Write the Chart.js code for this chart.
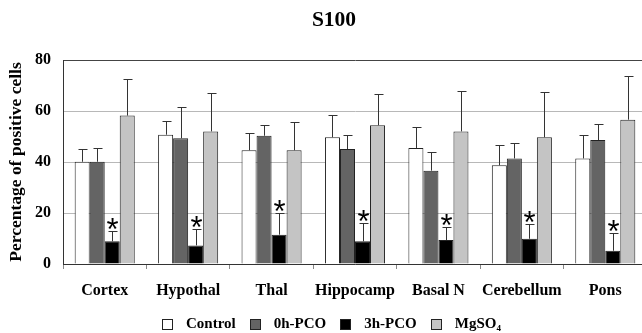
<!DOCTYPE html>
<html>
<head>
<meta charset="utf-8">
<script src="https://cdn.jsdelivr.net/npm/chart.js@4/dist/chart.umd.min.js"></script>
<style>
  html, body { margin: 0; padding: 0; background: #fff; overflow: hidden; }
  #wrap { position: relative; width: 650px; height: 333px; }
</style>
</head>
<body>
<div id="wrap"><canvas id="chart"></canvas></div>
<script>
const regions = ["Cortex", "Hypothal", "Thal", "Hippocamp", "Basal N", "Cerebellum", "Pons"]
const seriesNames = ["Control", "0h-PCO", "3h-PCO", "MgSO\u2084"]

const control = [40.1, 50.7, 44.6, 49.7, 45.5, 38.7, 41.4]
const controlErr = [5.0, 5.4, 6.8, 8.9, 8.4, 7.8, 9.3]
const pco0h = [40.1, 49.3, 50.3, 45.1, 36.6, 41.4, 48.6]
const pco0hErr = [5.3, 12.4, 4.1, 5.6, 7.3, 6.2, 6.3]
const pco3h = [8.9, 7.3, 11.5, 8.9, 9.4, 9.9, 5.2]
const pco3hErr = [4.0, 6.6, 8.4, 7.2, 5.2, 5.8, 6.8]
const mgso4 = [58.2, 52.0, 44.6, 54.4, 52.0, 49.7, 56.6]
const mgso4Err = [14.5, 15.1, 11.0, 12.1, 16.0, 17.9, 17.2]

const yTicks = [0, 20, 40, 60, 80]

const serif = "'Liberation Serif', 'Times New Roman', serif"

// error bars (upward only) and significance stars
const errorBars = {
  id: "errorBars",
  afterDatasetsDraw(chart) {
    const ctx = chart.ctx
    const y = chart.scales.y
    ctx.save()
    chart.data.datasets.forEach((ds, i) => {
      const meta = chart.getDatasetMeta(i)
      meta.data.forEach((bar, j) => {
        const top = Math.round(y.getPixelForValue(ds.data[j] + ds.errors[j])) + 0.5
        const x = Math.round(bar.x) + 0.5
        ctx.strokeStyle = "#333"
        ctx.lineWidth = 1
        ctx.beginPath()
        ctx.moveTo(x, bar.y)
        ctx.lineTo(x, top)
        ctx.moveTo(x - 4, top)
        ctx.lineTo(x + 5, top)
        ctx.stroke()
        if (ds.starred) {
          ctx.font = "31px 'Liberation Sans', Arial, sans-serif"
          ctx.fillStyle = "#000"
          ctx.textAlign = "center"
          ctx.textBaseline = "alphabetic"
          const m = ctx.measureText("*")
          const mid = (m.actualBoundingBoxAscent - m.actualBoundingBoxDescent) / 2
          ctx.fillText("*", x, top - 8 + mid)
        }
      })
    })
    ctx.restore()
  }
}

// title and legend row, positioned like the original figure
const figureText = {
  id: "figureText",
  afterDraw(chart, args, opts) {
    const ctx = chart.ctx
    ctx.save()
    ctx.fillStyle = "#000"
    ctx.textBaseline = "middle"
    ctx.textAlign = "center"
    ctx.font = "bold 21.5px " + serif
    ctx.fillText(opts.title, opts.titleX, opts.titleY)

    ctx.font = "bold 15px " + serif
    ctx.textAlign = "left"
    const box = 10, gap = 14, spacing = 14
    let x = opts.legendLeft
    chart.data.datasets.forEach(ds => {
      const w = ctx.measureText(ds.label).width
      const bx = Math.round(x) + 0.5
      const by = Math.round(opts.legendY - box / 2) + 0.5
      ctx.fillStyle = ds.backgroundColor
      ctx.fillRect(bx, by, box, box)
      ctx.strokeStyle = "#222"
      ctx.lineWidth = 1
      ctx.strokeRect(bx, by, box, box)
      ctx.fillStyle = "#000"
      ctx.fillText(ds.label, x + box + gap, opts.legendY)
      x += box + gap + w + spacing
    })
    ctx.restore()
  }
}

new Chart(document.getElementById("chart"), {
  type: "bar",
  data: {
    labels: regions,
    datasets: [
      { label: seriesNames[0], data: control, errors: controlErr, backgroundColor: "#ffffff" },
      { label: seriesNames[1], data: pco0h, errors: pco0hErr, backgroundColor: "#646464" },
      { label: seriesNames[2], data: pco3h, errors: pco3hErr, backgroundColor: "#000000", starred: true },
      { label: seriesNames[3], data: mgso4, errors: mgso4Err, backgroundColor: "#c4c4c4" }
    ].map(ds => ({ ...ds, borderColor: "#222", borderWidth: 1, categoryPercentage: 0.72, barPercentage: 1.0 }))
  },
  options: {
    responsive: true,
    maintainAspectRatio: false,
    animation: false,
    layout: { padding: { top: 60, left: 0, right: 3, bottom: 29 } },
    scales: {
      x: {
        afterFit: scale => { scale.height = 40 },
        grid: { drawOnChartArea: false, tickLength: 5, color: "#888" },
        border: { color: "#333" },
        ticks: {
          color: "#000",
          padding: 12,
          maxRotation: 0,
          minRotation: 0,
          autoSkip: false,
          font: { family: serif, size: 16, weight: "bold" }
        }
      },
      y: {
        min: 0,
        max: 80,
        afterFit: scale => { scale.width = 63 },
        afterBuildTicks: scale => { scale.ticks = yTicks.map(v => ({ value: v })) },
        grid: {
          drawTicks: false,
          color: c => (c.tick && c.tick.value === 80 ? "#444" : "#b8b8b8")
        },
        border: { color: "#333" },
        ticks: { color: "#000", padding: 12, font: { family: serif, size: 16, weight: "bold" } },
        title: {
          display: true,
          text: "Percentage of positive cells",
          color: "#000",
          padding: { top: 6, bottom: 0 },
          font: { family: serif, size: 17.5, weight: "bold" }
        }
      }
    },
    plugins: {
      legend: { display: false },
      tooltip: { enabled: false },
      figureText: { title: "S100", titleX: 334, titleY: 20, legendLeft: 162, legendY: 324 }
    }
  },
  plugins: [errorBars, figureText]
})
</script>
</body>
</html>
